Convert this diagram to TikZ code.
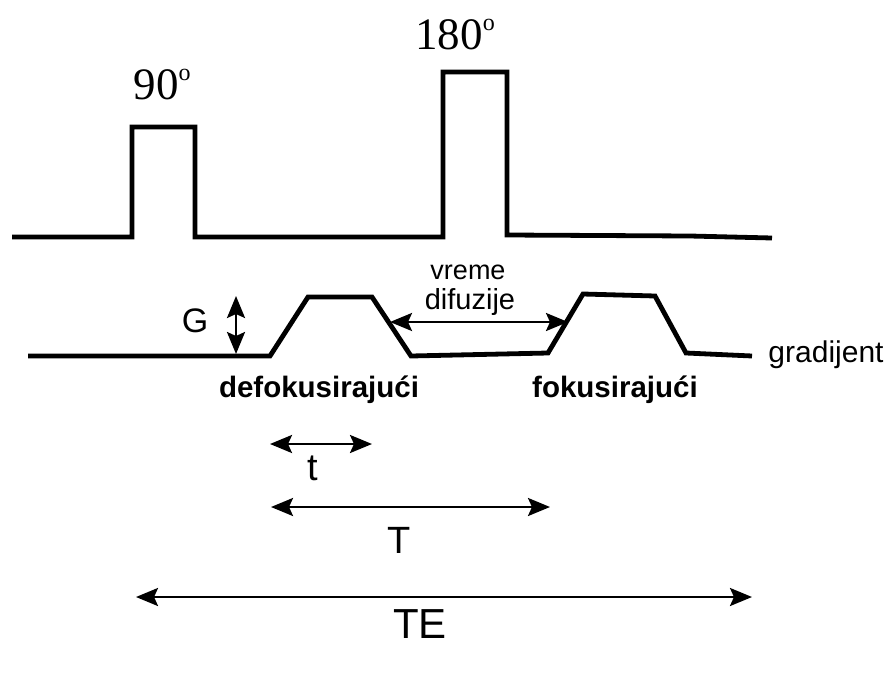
\documentclass[tikz,border=0pt]{standalone}
\usepackage{fontspec}
\setmainfont{Liberation Serif}
\setsansfont{Liberation Sans}
\usetikzlibrary{arrows.meta}
\newcommand{\dego}{\raisebox{0.42em}{\fontsize{24}{24}\selectfont o}}
\begin{document}
\begin{tikzpicture}[x=1pt,y=-1pt,
  wave/.style={line width=4.8pt,line join=miter},
  dim/.style={line width=2.6pt,{Stealth[length=22pt,width=18pt,inset=4pt]}-{Stealth[length=22pt,width=18pt,inset=4pt]}},
  serlbl/.style={font=\fontsize{45}{45}\selectfont\rmfamily,inner sep=0pt},
  sanslbl/.style={font=\fontsize{30}{30}\selectfont\sffamily,inner sep=0pt},
  boldlbl/.style={font=\fontsize{29.5}{30}\selectfont\sffamily\bfseries,inner sep=0pt},
  biglbl/.style={font=\fontsize{38}{38}\selectfont\sffamily,inner sep=0pt}]
\useasboundingbox (0,0) rectangle (888,693);
% RF pulses
\draw[wave] (12,237) -- (132,237) -- (132,127) -- (195,127) -- (195,237) -- (443,237)
  -- (443,72) -- (507,72) -- (507,235) -- (690,236) -- (772,238);
% gradient
\draw[wave] (28,356) -- (270,356) -- (308,297) -- (372,297) -- (411,356)
  -- (548,353) -- (583,294) -- (655,296) -- (686,353) -- (752,356);
% labels
\node[serlbl] (l90) at (162,85) {90\dego};
\node[serlbl] (l180) at (455,35) {180\dego};
\node[sanslbl,font=\fontsize{34}{34}\selectfont\sffamily] (G) at (195,321) {G};
\coordinate (gtop) at (236,296);
\coordinate (gbot) at (236,354);
\draw[dim] (gtop) -- (gbot);
\node[sanslbl,font=\fontsize{27}{27}\selectfont\sffamily] (vreme) at (468,272) {vreme};
\node[sanslbl,font=\fontsize{29}{29}\selectfont\sffamily] (dif) at (470,302) {difuzije};
\coordinate (va) at (390,322);
\coordinate (vb) at (568,322);
\draw[dim] (va) -- (vb);
\node[boldlbl] (defo) at (319,390) {defokusirajući};
\node[boldlbl] (foku) at (615,390) {fokusirajući};
\node[sanslbl] (grad) at (826,355) {gradijent};
% time spans
\coordinate (ta) at (270,444);
\coordinate (tb) at (372,444);
\draw[dim] (ta) -- (tb);
\node[biglbl] (t) at (313,468) {t};
\coordinate (Ta) at (271,507);
\coordinate (Tb) at (550,507);
\draw[dim] (Ta) -- (Tb);
\node[biglbl] (T) at (399,540) {T};
\coordinate (TEa) at (136,597);
\coordinate (TEb) at (752,597);
\draw[dim] (TEa) -- (TEb);
\node[biglbl,font=\fontsize{42}{42}\selectfont\sffamily] (TE) at (420,624) {TE};
\end{tikzpicture}
\end{document}
